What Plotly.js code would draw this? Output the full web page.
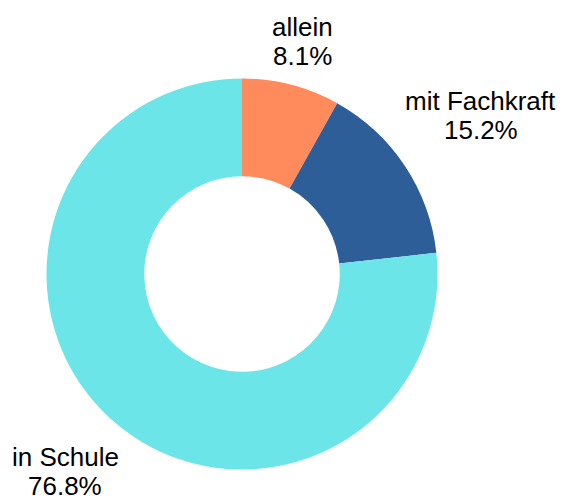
<!DOCTYPE html>
<html>
<head>
<meta charset="utf-8">
<script src="https://cdn.plot.ly/plotly-3.0.1.min.js"></script>
<style>
  html, body { margin: 0; padding: 0; background: #fff; }
  #chart { width: 563px; height: 498px; }
</style>
</head>
<body>
<div id="chart"></div>
<script>
// Anteile in Prozent
const labels = ['allein', 'mit Fachkraft', 'in Schule'];
const values = [8.1, 15.2, 76.8];
const colors = ['#FF8A5B', '#2E5E98', '#6BE5E8'];

// Geometrie (Pixel)
const W = 563, H = 498;
const CX = 242, CY = 274, R = 195.5;
// Abstand der Beschriftung vom Mittelpunkt, in Vielfachen des Radius
const LABEL_DIST = [1.228, 1.466, 1.355];
const LINE_GAP = 29.3;
const FONT = 'Liberation Sans, Arial, sans-serif';

const trace = {
    type: 'pie',
    labels: labels,
    values: values,
    hole: 0.5,
    sort: false,
    direction: 'clockwise',
    rotation: 0,
    marker: { colors: colors, line: { width: 0 } },
    textinfo: 'none',
    hoverinfo: 'label+value',
    domain: { x: [(CX - R) / W, (CX + R) / W], y: [(H - CY - R) / H, (H - CY + R) / H] }
};

// Beschriftungen entlang der Segmentmitte
const total = values.reduce((a, b) => a + b, 0);
const annotations = [];
let acc = 0;
values.forEach((v, i) => {
    const mid = (acc + v / 2) / total * 2 * Math.PI;
    acc += v;
    const r = R * LABEL_DIST[i];
    const x = (CX + r * Math.sin(mid)) / W;
    const y = (H - (CY - r * Math.cos(mid))) / H;
    const base = {
        xref: 'paper', yref: 'paper', x: x, y: y,
        xanchor: 'center', yanchor: 'middle', showarrow: false,
        font: { family: FONT, size: 26, color: '#000' }
    };
    annotations.push({ ...base, text: labels[i], yshift: LINE_GAP / 2 });
    annotations.push({ ...base, text: v.toFixed(1) + '%', yshift: -LINE_GAP / 2 });
});

const layout = {
    width: W,
    height: H,
    margin: { l: 0, r: 0, t: 0, b: 0 },
    showlegend: false,
    paper_bgcolor: '#fff',
    font: { family: FONT, size: 26, color: '#000' },
    annotations: annotations
};

Plotly.newPlot('chart', [trace], layout, { displayModeBar: false, staticPlot: true });
</script>
</body>
</html>
